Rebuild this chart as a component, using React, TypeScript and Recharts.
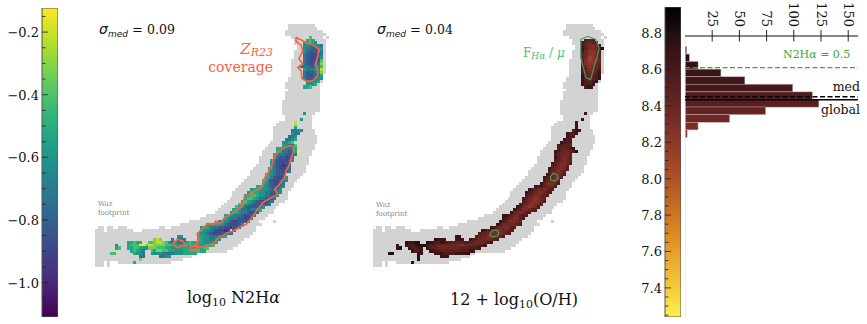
import { Bar, BarChart, Cell, ReferenceLine, Scatter, ScatterChart, XAxis, YAxis } from "recharts";

// grid cells of the two maps: [row, first column, last column]
const footprintRuns: number[][] = [
  [0, 66, 74], [1, 66, 75], [2, 65, 77], [3, 65, 78], [4, 67, 77], [4, 79, 79], [5, 68, 78], [6, 68, 78], [7, 69, 78], [8, 69, 78],
  [9, 68, 78], [10, 68, 78], [11, 68, 78], [12, 67, 78], [13, 67, 78], [14, 67, 78], [15, 67, 78], [16, 67, 78], [17, 67, 77],
  [18, 66, 77], [19, 66, 77], [20, 65, 76], [21, 65, 76], [22, 66, 76], [23, 65, 76], [24, 65, 76], [25, 65, 76], [26, 64, 76],
  [27, 64, 76], [28, 64, 76], [29, 64, 76], [30, 64, 74], [31, 65, 73], [32, 65, 73], [33, 63, 73], [34, 62, 73], [35, 61, 73],
  [36, 61, 74], [37, 61, 74], [38, 61, 75], [39, 61, 75], [40, 60, 75], [41, 59, 74], [42, 58, 74], [43, 57, 73], [44, 57, 73],
  [45, 56, 72], [46, 56, 72], [47, 56, 72], [48, 55, 71], [49, 54, 71], [50, 53, 71], [51, 53, 70], [52, 52, 69], [53, 51, 68],
  [54, 50, 67], [55, 49, 67], [56, 48, 66], [57, 47, 65], [58, 47, 65], [59, 46, 65], [60, 45, 64], [61, 44, 62], [62, 43, 61],
  [63, 42, 60], [64, 41, 60], [65, 38, 58], [66, 36, 57], [67, 32, 55], [67, 61, 61], [68, 29, 56], [69, 1, 2], [69, 4, 5], [69, 8, 10],
  [69, 22, 23], [69, 26, 54], [70, 0, 2], [70, 4, 12], [70, 16, 54], [71, 0, 53], [72, 0, 52], [73, 0, 50], [74, 0, 49], [75, 0, 48],
  [76, 0, 46], [77, 0, 44], [78, 0, 34], [79, 0, 32], [80, 0, 29], [81, 0, 2], [81, 4, 4], [81, 8, 25], [82, 0, 2], [82, 4, 4],
];

// [row, first column, one digit per cell], digit = bin of log10 N2Ha
const n2haRuns: [number, number, string][] = [
  [4, 73, "6"], [5, 72, "565"], [6, 71, "45654"], [7, 71, "4433443"], [8, 71, "4332234"], [9, 71, "4322233"], [10, 71, "3221123"],
  [11, 71, "3211124"], [12, 71, "3211126"], [13, 71, "3221237"], [14, 70, "33322346"], [15, 71, "4333448"], [16, 71, "3222347"],
  [17, 71, "3212335"], [18, 71, "3222344"], [19, 72, "33345"], [20, 72, "4445"], [21, 71, "556"],
  [30, 71, "4"], [32, 70, "4"], [33, 68, "8"], [34, 68, "8"], [35, 68, "5"],
  [36, 67, "3344"], [37, 67, "433"], [38, 66, "334"], [39, 65, "3345"], [40, 64, "4456"], [41, 64, "54336"], [42, 62, "5543335"],
  [43, 62, "5533225"], [43, 69, "9"], [44, 61, "54332223"], [45, 61, "5322113"], [46, 60, "53211124"], [47, 60, "4321123"],
  [48, 60, "4321012"], [49, 59, "54321123"], [50, 59, "54322123"], [51, 58, "5543222"], [52, 58, "55321124"], [53, 57, "653211234"],
  [54, 57, "54321123"], [55, 55, "5544322134"], [56, 53, "45554433234"], [57, 52, "465544332234"], [58, 51, "456654433224"],
  [59, 51, "56654332223"], [60, 50, "56543221123"], [61, 49, "66543221223"], [62, 48, "6543222234"], [63, 47, "5543323345"],
  [64, 46, "4554332112"], [65, 44, "55443321123"], [66, 44, "5433322112"], [67, 42, "45432112223"], [68, 38, "4455443211124"],
  [69, 36, "45543322110223"], [70, 36, "5443211100"], [70, 47, "2"], [71, 35, "544321112233"], [72, 28, "44"], [72, 35, "5544333445"],
  [73, 20, "787"], [73, 26, "3"], [73, 28, "333"], [73, 35, "55443344"], [74, 11, "55655"], [74, 18, "6678876"], [74, 25, "4343345"],
  [74, 32, "6555544445"], [75, 7, "4"], [75, 11, "566699788777766554455655445556"], [76, 7, "56"], [76, 11, "5566544777666554445555555566"],
  [77, 12, "56543"], [77, 19, "6577665544455566655"], [78, 5, "66"], [78, 13, "5443"], [78, 19, "4444333344455555"], [79, 15, "33"],
  [79, 22, "3344"], [80, 15, "7"], [81, 13, "5"],
];

// same layout, digit = bin of 12 + log10(O/H)
const ohRuns: [number, number, string][] = [
  [5, 72, "2332"], [6, 71, "234432"], [7, 71, "2345542"], [8, 71, "1345541"], [8, 78, "0"], [9, 71, "2456652"], [10, 71, "3456653"],
  [11, 71, "3467653"], [12, 71, "3567654"], [13, 71, "3566643"], [14, 71, "2456543"], [15, 71, "2355432"], [16, 71, "2344431"],
  [17, 71, "1344321"], [18, 71, "1233321"], [19, 71, "123321"], [20, 71, "12221"], [21, 72, "211"],
  [30, 72, "1"], [32, 71, "1"], [33, 69, "1"], [34, 69, "1"], [35, 69, "1"],
  [36, 68, "211"], [37, 66, "1221"], [38, 66, "122"], [39, 65, "122"], [40, 64, "1222"], [41, 63, "22333"], [42, 63, "233321"],
  [43, 62, "12344320"], [44, 62, "234443"], [45, 62, "134543"], [46, 62, "234543"], [47, 61, "1345542"], [48, 61, "234553"],
  [49, 60, "1345543"], [50, 60, "234543"], [51, 59, "1244442"], [52, 58, "1234543"], [53, 58, "234553"], [54, 57, "1345542"],
  [55, 55, "12234442"], [56, 53, "123445432"], [57, 52, "123455432"], [58, 52, "23455432"], [59, 51, "23456543"], [60, 51, "23456542"],
  [61, 50, "23456543"], [62, 49, "12456542"], [63, 48, "12355432"], [64, 47, "1345432"], [65, 44, "112344322"], [66, 44, "12345532"],
  [67, 43, "12345543"], [68, 42, "124444432"], [69, 40, "123445432"], [70, 37, "12344554432"], [71, 36, "23345555432"], [72, 28, "11"],
  [72, 35, "2344555432"], [73, 21, "0111"], [73, 28, "111"], [73, 33, "1234445432"], [74, 11, "01100"], [74, 18, "0112211"], [74, 25, "2233332"],
  [74, 32, "233444321"], [75, 8, "1"], [75, 11, "1221"], [75, 15, "000"], [75, 18, "122344444445544443321"], [76, 8, "10"], [76, 12, "12211"],
  [76, 18, "1233444444433332221"], [77, 13, "1221"], [77, 19, "1122333333322211"], [78, 5, "00"], [78, 15, "11"], [78, 21, "111222211110"],
  [79, 15, "0"], [79, 23, "111"], [80, 15, "0"], [81, 13, "0"],
];

// contours, in grid columns/rows
const r23Top = [[68.7, 4.5], [71, 5.7], [72.2, 6.5], [74.2, 7], [76.7, 8.7], [76.1, 11], [75.3, 13.9], [76.1, 15.6], [76.1, 17.8], [74.2, 19.5], [72.2, 19.5], [70.7, 18.6], [70.5, 16.1], [69.3, 14.8], [71, 13.6], [69.7, 11.8], [71, 9.3], [70.5, 7.3], [68.7, 5.9], [68.7, 4.5]];
const r23Band = [[66.5, 41.5], [67.8, 42], [67.8, 44], [67, 45.7], [66.5, 48], [65.3, 50.2], [64.8, 52.5], [63, 54.8], [61.4, 56.5], [62.5, 58.2], [60.2, 59.3], [57.4, 61], [55.1, 63.9], [54, 65.6], [51.7, 68.4], [49.4, 69.5], [47.2, 70.7], [45.5, 71.2], [42, 73.2], [40.3, 75], [37.5, 76], [35.2, 76], [34.7, 75.2], [35.6, 73.5], [34.9, 71.8], [37, 69.5], [38.6, 68.2], [40.6, 68.4], [41.3, 67.3], [42.6, 68.4], [44.3, 66.1], [48.3, 63.9], [50.3, 62.2], [51.1, 58.8], [54, 57.6], [57.4, 55.3], [58, 52.5], [60.2, 49.1], [61.4, 45.1], [63.6, 42.8], [66.5, 41.5]];
const r23SmallA = [[26.5, 75.2], [28.1, 73.5], [29.9, 74.1], [31.3, 75.8], [29.6, 75.6], [28.1, 76.4], [26.5, 75.2]];
const r23SmallB = [[32.4, 76.4], [34.1, 75.5], [35.2, 76.4], [34.4, 77.5], [32.7, 77.3], [32.4, 76.4]];
const fluxTop = [[71, 5.3], [73.3, 4.2], [76.1, 5.3], [77.3, 8.2], [76.7, 11], [75.6, 14.4], [74.4, 19], [72.8, 18.4], [72.2, 16.1], [71, 11.6], [71, 7], [71, 5.3]];
const fluxCircle = [[60.6, 52.2], [61.7, 50.9], [63.1, 51.6], [63.3, 52.8], [62, 53.6], [60.8, 53.3], [60.6, 52.2]];
const fluxBlob = [[39.8, 72], [40.6, 70.7], [42.1, 70.3], [43, 71.2], [42.6, 72.4], [40.9, 72.7], [39.8, 72]];

const histBins = [8.704, 8.662, 8.621, 8.579, 8.537, 8.496, 8.454, 8.412, 8.371, 8.329, 8.287, 8.246];
const histCounts = [1.5, 4, 12, 33, 55, 99, 117, 123, 74, 41, 12, 2];
const countTicks = [25, 50, 75, 100, 125, 150];
const n2haTicks = [-1.1, -1.05, -1.0, -0.95, -0.9, -0.85, -0.8, -0.75, -0.7, -0.65, -0.6, -0.55, -0.5, -0.45, -0.4, -0.35, -0.3, -0.25, -0.2, -0.15];
const ohTicks = [7.25, 7.3, 7.35, 7.4, 7.45, 7.5, 7.55, 7.6, 7.65, 7.7, 7.75, 7.8, 7.85, 7.9, 7.95, 8.0, 8.05, 8.1, 8.15, 8.2, 8.25, 8.3, 8.35, 8.4, 8.45, 8.5, 8.55, 8.6, 8.65, 8.7, 8.75, 8.8, 8.85, 8.9];
const n2haRange = [{ name: "N2Ha", range: [-1.11, -0.123] }];
const ohRange = [{ name: "OH", range: [7.24, 8.943] }];

const viridisBins = ["#46327e", "#3f4a8a", "#365c8d", "#2a788e", "#21918c", "#22a884", "#44bf70", "#7ad151", "#bddf26", "#fde725"];
const ohBins = ["#260e10", "#3a1517", "#4e1c1d", "#5e2120", "#6d2723", "#7b2d26", "#89362a", "#96402e"];
const histColors = ["#231013", "#2a1114", "#311316", "#381619", "#3f181b", "#47191c", "#4f1c1e", "#581f20", "#622322", "#6d2824", "#792d27", "#86352a"];

const viridisStops = ["#440154", "#482878", "#3e4989", "#31688e", "#26828e", "#1f9e89", "#35b779", "#6ece58", "#b5de2b", "#fde725"];
const ohStops = ["#fdf04f", "#f3c43a", "#e59a2a", "#cc7422", "#ae5226", "#8e3a29", "#6d2723", "#4d1b1d", "#2c1114", "#000000"];

const SERIF = '"DejaVu Serif", serif';
const SANS = '"DejaVu Sans", sans-serif';
const ORANGE = "#fa6242";
const GREEN = "#3f9f62";

const expandRuns = (runs: number[][]) =>
  runs.flatMap(([row, first, last]) => {
    const cells = [];
    for (let c = first; c <= last; c++) cells.push({ x: c + 0.5, y: row + 0.5 });
    return cells;
  });

const expandLevels = (runs: [number, number, string][]) =>
  runs.flatMap(([row, first, digits]) =>
    digits.split("").map((d, i) => ({ x: first + i + 0.5, y: row + 0.5, level: Number(d) }))
  );

const toPoints = (pts: number[][]) => pts.map(([x, y]) => ({ x, y }));

const squareShape = (colorOf: (p: any) => string) => (props: any) => (
  <rect x={props.cx - 1.55} y={props.cy - 1.55} width={3.1} height={3.1} fill={colorOf(props.payload)} shapeRendering="crispEdges" />
);
const noDot = () => <g />;

const footprintCells = expandRuns(footprintRuns);

function PixelMap({ left, cells, palette, contours, color, width }: any) {
  return (
    <div style={{ position: "absolute", left, top: 24 }}>
      <ScatterChart width={237} height={246} margin={{ top: 0, right: 0, bottom: 0, left: 0 }}>
        <XAxis type="number" dataKey="x" domain={[0, 81]} hide />
        <YAxis type="number" dataKey="y" domain={[0, 84]} reversed hide />
        <Scatter data={footprintCells} shape={squareShape(() => "#d3d3d3")} isAnimationActive={false} />
        <Scatter data={cells} shape={squareShape((p) => palette[p.level])} isAnimationActive={false} />
        {contours.map((pts: number[][], i: number) => (
          <Scatter key={i} data={toPoints(pts)} line={{ stroke: color, strokeWidth: width }} shape={noDot} isAnimationActive={false} />
        ))}
      </ScatterChart>
    </div>
  );
}

const colorbarTick = (isMajor: (v: number) => boolean) => (props: any) => {
  const { x, y, payload } = props;
  const major = isMajor(payload.value);
  const label = payload.value.toFixed(1).replace("-", "\u2212");
  return (
    <g>
      <line x1={x} x2={x + (major ? 6 : 3.5)} y1={y} y2={y} stroke="#222" strokeWidth={0.8} />
      {major && (
        <text x={x - 3} y={y + 5} textAnchor="end" fontFamily={SERIF} fontSize={13} fill="#111">
          {label}
        </text>
      )}
    </g>
  );
};

function Colorbar({ left, top, axisWidth, height, data, domain, ticks, gradientId, stops, isMajor }: any) {
  return (
    <div style={{ position: "absolute", left: left - axisWidth, top }}>
      <BarChart width={axisWidth + 16} height={height} data={data} barCategoryGap={0} margin={{ top: 0, right: 0, bottom: 0, left: 0 }}>
        <defs>
          <linearGradient id={gradientId} x1="0" y1="1" x2="0" y2="0">
            {stops.map((c: string, i: number) => (
              <stop key={i} offset={`${(i / (stops.length - 1)) * 100}%`} stopColor={c} />
            ))}
          </linearGradient>
        </defs>
        <XAxis dataKey="name" hide />
        <YAxis width={axisWidth} type="number" domain={domain} ticks={ticks} interval={0} axisLine={false} tickLine={false} tickSize={0} tickMargin={0} tick={colorbarTick(isMajor)} />
        <Bar dataKey="range" fill={`url(#${gradientId})`} stroke="#555" strokeWidth={1} isAnimationActive={false} />
      </BarChart>
    </div>
  );
}

const countTick = (props: any) => {
  const { x, payload } = props;
  return (
    <g>
      <line x1={x} x2={x} y1={30} y2={41.5} stroke="#111" strokeWidth={0.9} />
      <text transform={`translate(${x - 4.5}, 27) rotate(90)`} textAnchor="end" fontFamily={SERIF} fontSize={13} fill="#111">
        {payload.value}
      </text>
    </g>
  );
};

// the numeric bin axis narrows the bars, so keep each one a full bin tall around its centre
const histBar = (props: any) => (
  <rect x={props.x} y={props.y + props.height / 2 - 3.8} width={props.width} height={7.6} fill={histColors[props.index]} stroke="#c9a3a3" strokeWidth={0.5} />
);

function Histogram() {
  const rows = histBins.map((bin, i) => ({ bin, count: histCounts[i] }));
  return (
    <div style={{ position: "absolute", left: 685, top: 0 }}>
      <BarChart layout="vertical" width={173} height={317} data={rows} barCategoryGap={0} barGap={0} margin={{ top: 0, right: 0, bottom: 0, left: 0 }}>
        <XAxis type="number" orientation="top" height={36} domain={[0, 159]} ticks={countTicks} interval={0} tickLine={false} tick={countTick} axisLine={{ stroke: "#111", strokeWidth: 1 }} />
        <YAxis type="number" dataKey="bin" domain={[7.24, 8.784]} reversed hide />
        <ReferenceLine x={0} stroke="#dddddd" />
        <Bar dataKey="count" barSize={7.6} shape={histBar} isAnimationActive={false}>
          {rows.map((_, i) => (
            <Cell key={i} fill={histColors[i]} />
          ))}
        </Bar>
        <ReferenceLine y={8.61} stroke="#3aa63a" strokeDasharray="5 2.5" strokeWidth={1.2} />
        <ReferenceLine y={8.45} stroke="#000" strokeDasharray="5 2.5" strokeWidth={1.5} />
        <ReferenceLine y={8.434} stroke="#000" strokeWidth={1.5} />
      </BarChart>
    </div>
  );
}

function Note({ x, y, size, color, children, align }: any) {
  // y is the text baseline
  const style: any = {
    position: "absolute",
    top: y - size,
    lineHeight: `${size * 1.17}px`,
    fontFamily: SERIF,
    fontSize: size,
    color,
    whiteSpace: "nowrap",
  };
  if (align === "right") style.right = 867 - x;
  else style.left = x;
  return <div style={style}>{children}</div>;
}

const sub = (text: string, size: number) => (
  <span style={{ fontSize: size, position: "relative", top: 2, fontStyle: "italic" }}>{text}</span>
);

function Sigma({ x, value }: any) {
  return (
    <Note x={x} y={34} size={12.5} color="#111">
      <span style={{ fontFamily: SANS, fontStyle: "italic", fontSize: 14 }}>σ</span>
      <span style={{ fontFamily: SANS, fontStyle: "italic", fontSize: 9, position: "relative", top: 3 }}>med</span>
      <span style={{ fontFamily: SANS, fontSize: 13 }}> = </span> {value}
    </Note>
  );
}

export default function App() {
  return (
    <div style={{ position: "absolute", left: 0, top: 0, width: 867, height: 324, overflow: "hidden", background: "#fff" }}>
      <Colorbar left={42} top={8} axisWidth={42} height={309} data={n2haRange} domain={[-1.11, -0.123]} ticks={n2haTicks} gradientId="viridisBar" stops={viridisStops} isMajor={(v: number) => Math.abs(v * 5 - Math.round(v * 5)) < 1e-6} />
      <PixelMap left={95} cells={expandLevels(n2haRuns)} palette={viridisBins} contours={[r23Top, r23Band, r23SmallA, r23SmallB]} color={ORANGE} width={1.7} />
      <PixelMap left={373} cells={expandLevels(ohRuns)} palette={ohBins} contours={[fluxTop, fluxCircle, fluxBlob]} color={GREEN} width={1.2} />
      <Colorbar left={665} top={7} axisWidth={42} height={310} data={ohRange} domain={[7.24, 8.943]} ticks={ohTicks} gradientId="ohBar" stops={ohStops} isMajor={(v: number) => Math.abs(v * 5 - Math.round(v * 5)) < 1e-6} />
      <Histogram />

      <Sigma x={99} value="0.09" />
      <Sigma x={377} value="0.04" />
      <Note x={273} y={56} size={15} color={ORANGE} align="right">
        <i>Z</i>
        {sub("R23", 11)}
      </Note>
      <Note x={273} y={73} size={14} color={ORANGE} align="right">coverage</Note>
      <Note x={523} y={58} size={12} color="#3fc77a">
        F{sub("Hα", 9)} / <i>μ</i>
      </Note>
      <Note x={98} y={207} size={7} color="#888">Waz</Note>
      <Note x={98} y={216} size={7} color="#888">footprint</Note>
      <Note x={376} y={208} size={7} color="#888">Waz</Note>
      <Note x={376} y={217} size={7} color="#888">footprint</Note>
      <Note x={187} y={305} size={16} color="#111">
        log<span style={{ fontSize: 11, position: "relative", top: 3 }}>10</span> N2H<i>α</i>
      </Note>
      <Note x={450} y={307} size={16} color="#111">
        12 + log<span style={{ fontSize: 11, position: "relative", top: 3 }}>10</span>(O/H)
      </Note>
      <Note x={783} y={60} size={11} color="#3aa63a">
        N2H<i>α</i> = 0.5
      </Note>
      <Note x={860} y={92} size={12.5} color="#111" align="right">med</Note>
      <Note x={860} y={115} size={12.5} color="#111" align="right">global</Note>
    </div>
  );
}
